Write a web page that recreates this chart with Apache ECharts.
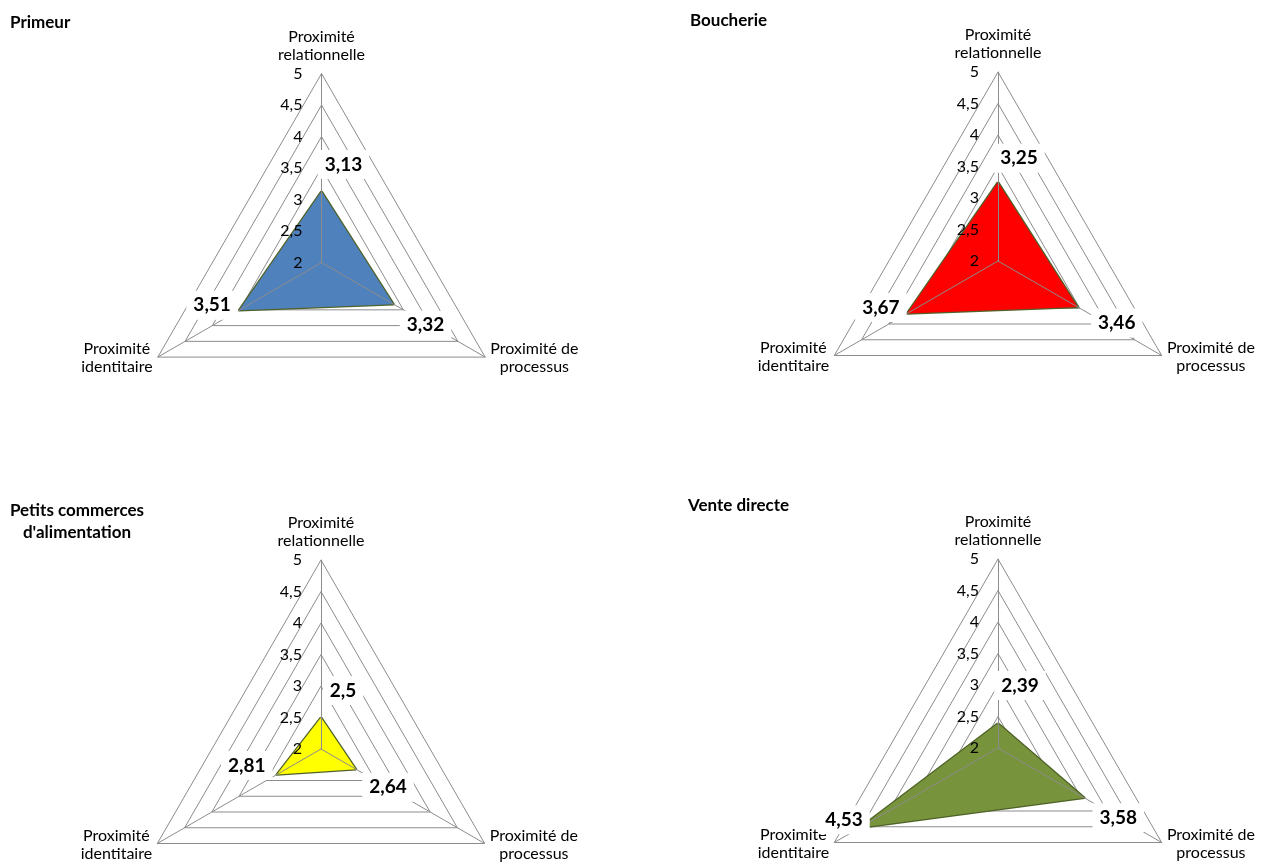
<!DOCTYPE html>
<html><head><meta charset="utf-8">
<script src="https://cdn.jsdelivr.net/npm/echarts@6/dist/echarts.min.js"></script>
<style>html,body{margin:0;padding:0;background:#fff}#c{width:1277px;height:865px}</style>
</head><body><div id="c"></div>
<script>
// ---- data ----
const indicatorNames = ['Proximité\nrelationnelle', 'Proximité\nidentitaire', 'Proximité de\nprocessus'];
const chartTitles = ['Primeur', 'Boucherie', "Petits commerces\nd'alimentation", 'Vente directe'];
const primeurValues = [3.13, 3.51, 3.32];
const boucherieValues = [3.25, 3.67, 3.46];
const petitsValues = [2.5, 2.81, 2.64];
const venteValues = [2.39, 4.53, 3.58];
const axisMin = 2, axisMax = 5, axisStep = 0.5;
const seriesValues = [primeurValues, boucherieValues, petitsValues, venteValues];

// ---- layout / styles ----
const R = 189;
const FONT = 'Lato';
const panels = [
  {center: [321.5, 262.6], titlePos: [10, 12], fill: '#4f81bd', offsets: [[22, -27], [-27, -5], [32, 21]]},
  {center: [998, 261], titlePos: [690, 10], fill: '#ff0000', offsets: [[21, -24], [-26, -6], [39, 16]]},
  {center: [321, 749], titlePos: [10, 500], fill: '#ffff00', offsets: [[22, -27], [-30, -9], [32, 18]]},
  {center: [998, 748], titlePos: [688, 495], fill: '#77933c', offsets: [[22, -38], [-16, -8], [34, 20]]}
];
const fmt = v => String(v).replace('.', ',');

const option = {backgroundColor: '#fff', animation: false, title: [], radar: [], series: [], grid: [], xAxis: [], yAxis: []};

panels.forEach((p, k) => {
  const vals = seriesValues[k];
  const indicators = indicatorNames.map(n => ({name: n, min: axisMin, max: axisMax}));
  option.title.push({
    text: chartTitles[k].split('\n').map(l => '{t|' + l + '}').join('\n'),
    left: p.titlePos[0], top: p.titlePos[1], padding: 0,
    textStyle: {fontFamily: FONT, fontWeight: 'bold', fontSize: 17, color: '#000',
      rich: {t: {align: 'center', fontFamily: FONT, fontWeight: 'bold', fontSize: 17, color: '#000', lineHeight: 22}}}
  });
  option.radar.push({
    center: p.center, radius: R, startAngle: 90, shape: 'polygon', splitNumber: 6,
    indicator: indicators, nameGap: 6,
    axisName: {
      formatter: n => n.split('\n').map(l => '{c|' + l + '}').join('\n'),
      color: '#000', fontFamily: FONT, fontSize: 16, padding: [0, 0, 4, 0],
      rich: {c: {align: 'center', fontFamily: FONT, fontSize: 16, color: '#000', lineHeight: 18}}
    },
    axisLine: {show: false}, axisTick: {show: false}, axisLabel: {show: false},
    splitLine: {lineStyle: {color: '#8c8c8c', width: 1}}, splitArea: {show: false}
  });
  option.radar.push({
    center: p.center, radius: R, startAngle: 90, shape: 'polygon', splitNumber: 6, z: 3,
    indicator: indicators, axisName: {show: false},
    axisLine: {show: true, lineStyle: {color: '#8c8c8c', width: 1}}, axisTick: {show: false}, axisLabel: {show: false},
    splitLine: {show: false}, splitArea: {show: false}
  });
  option.grid.push({left: p.center[0], top: p.center[1] - R, width: 1, height: R, z: 3});
  option.xAxis.push({gridIndex: k, type: 'value', show: false});
  option.yAxis.push({
    gridIndex: k, type: 'value', min: axisMin, max: axisMax, interval: axisStep, z: 3,
    axisLine: {show: false}, axisTick: {show: false}, splitLine: {show: false},
    axisLabel: {margin: 19, fontFamily: FONT, fontSize: 16, color: '#000', formatter: v => fmt(v)}
  });
  option.series.push({
    type: 'radar', radarIndex: 2 * k, z: 2, symbol: 'none',
    data: [{value: vals, lineStyle: {color: '#4f6228', width: 2.5}, areaStyle: {color: p.fill, opacity: 1}, itemStyle: {color: p.fill}}]
  });
  option.series.push({
    type: 'radar', radarIndex: 2 * k, z: 5,
    data: vals.map((v, d) => ({
      value: vals, symbol: 'circle', symbolSize: 1,
      itemStyle: {color: 'rgba(0,0,0,0)'}, lineStyle: {opacity: 0, width: 0},
      label: {
        show: true, position: 'inside', offset: p.offsets[d],
        formatter: prm => {
          if (prm.dimensionIndex != null) return prm.dimensionIndex === d ? '{v|' + fmt(vals[d]) + '}' : '';
          return prm.value === vals[d] ? '{v|' + fmt(vals[d]) + '}' : '';
        },
        rich: {v: {fontFamily: FONT, fontWeight: 'bold', fontSize: 19, color: '#000', backgroundColor: '#fff', padding: [5, 7]}}
      }
    }))
  });
});

const chart = echarts.init(document.getElementById('c'));
chart.setOption(option);
</script>
</body></html>
